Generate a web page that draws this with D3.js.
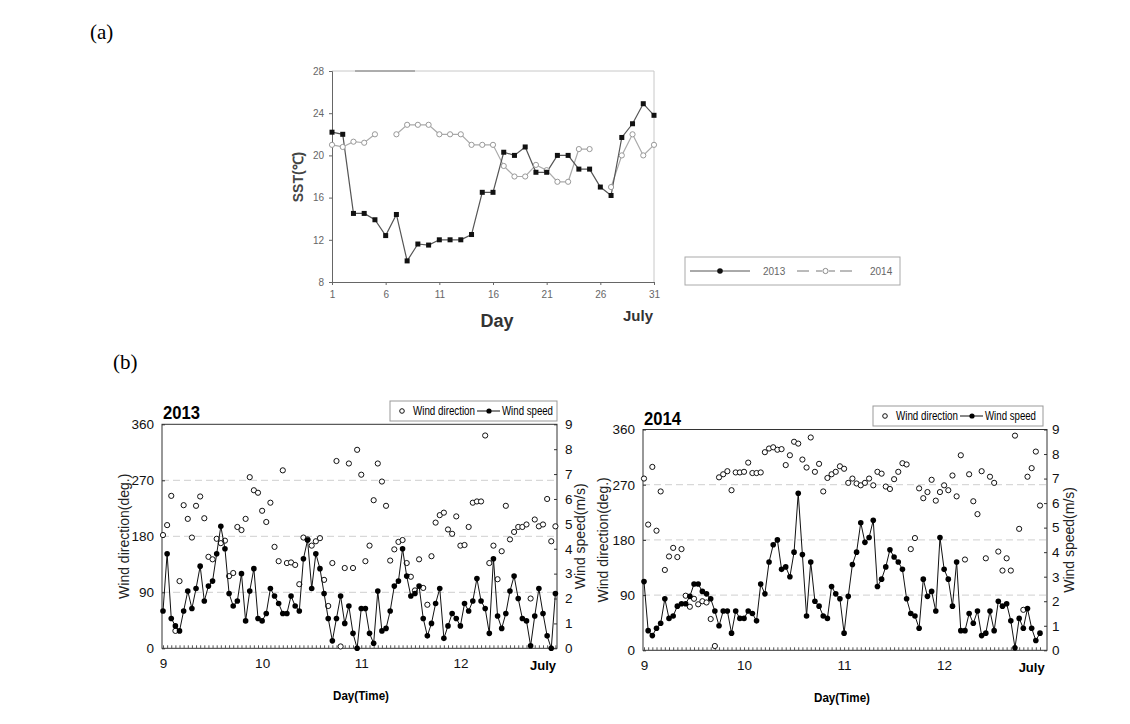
<!DOCTYPE html>
<html><head><meta charset="utf-8">
<script src="https://cdn.jsdelivr.net/npm/d3@7"></script>
<style>body{margin:0;background:#fff}svg{display:block}</style>
</head><body>
<svg id="c" width="1130" height="724"></svg>
<script>
// ---------- data: panel (a) ----------
const sstDays = d3.range(1, 32);
const sst2013 = [22.2,22.0,14.5,14.5,13.9,12.4,14.4,10.0,11.6,11.5,12.0,12.0,12.0,12.5,16.5,16.5,20.3,20.0,20.8,18.4,18.4,20.0,20.0,18.7,18.7,17.0,16.2,21.7,23.0,24.9,23.8];
const sst2014 = [21.0,20.8,21.3,21.2,22.0,null,22.0,22.9,22.9,22.9,22.0,22.0,22.0,21.0,21.0,21.0,19.0,18.0,18.0,19.1,18.6,17.5,17.5,20.6,20.6,null,17.0,20.0,22.0,20.0,21.0];
const sstTicks = [8,12,16,20,24,28];
const dayTicks = [1,6,11,16,21,26,31];

// ---------- data: panel (b) ----------
const hours = d3.range(96);
const dayTickHours = [0,24,48,72];
const dayLabels = ["9","10","11","12"];
const dirTicks = [0,90,180,270,360];
const spdTicks = [0,1,2,3,4,5,6,7,8,9];
const gridDirs = [90,180,270];
const dir2013 = [182,198,245,28,108,230,208,178,229,244, 209,147,143,176,169,173,116,121,195,190,
 208,275,254,250,221,203,234,163,140,286, 137,138,134,103,178,175,165,172,177,110,
 68,137,301,3,129,297,129,319,279,140, 165,238,297,268,229,141,159,171,174,137,
 115,93,143,97,70,148,202,214,218,191, 184,212,165,166,195,234,236,236,342,137,
 165,111,156,229,175,187,195,195,199,80, 207,196,199,240,172,196];
const spd2013 = [1.5,3.8,1.2,0.9,0.7,1.5,2.3,1.6,2.4,3.3, 1.9,2.5,2.7,3.8,4.9,4.0,2.2,1.7,1.9,3.0,
 1.1,2.3,3.2,1.2,1.1,1.4,2.4,2.1,1.8,1.4, 1.4,2.1,1.7,1.5,3.6,4.35,2.4,3.8,3.2,2.2,
 1.2,0.3,1.2,2.1,1.0,1.7,0.6,0.0,1.6,1.6, 0.6,0.2,2.3,0.7,0.8,1.5,2.5,2.7,4.0,2.9,
 2.1,2.2,2.5,1.2,0.5,1.0,1.8,2.4,0.4,0.9, 1.4,1.2,0.9,1.8,1.5,1.9,2.8,1.9,1.6,0.6,
 3.6,1.3,0.8,1.4,2.3,2.9,2.0,1.2,1.1,0.1, 1.3,2.4,1.4,0.5,0.0,2.2];
const dir2014 = [280,205,299,195,259,131,153,167,152,165, 89,71,84,75,80,78,51,7,282,287,
 292,261,290,290,291,306,289,289,290,323, 329,331,327,328,302,318,340,337,311,298,
 347,291,304,259,281,287,291,300,296,273, 280,272,269,273,280,269,291,288,267,263,
 279,291,305,303,165,183,264,248,258,278, 244,258,269,261,285,251,318,148,287,243,
 222,292,150,283,273,161,130,150,130,350, 198,66,283,297,324,236];
const spd2014 = [2.8,0.8,0.6,0.9,1.1,2.1,1.3,1.4,1.8,1.9, 1.9,2.2,2.7,2.7,2.4,2.3,2.1,1.6,1.0,1.6,
 1.6,0.7,1.6,1.3,1.3,1.6,1.5,1.2,2.7,2.3, 3.6,4.3,4.5,3.3,3.4,3.0,4.0,6.4,3.9,1.4,
 3.6,2.0,1.8,1.4,1.3,2.6,2.3,2.1,0.7,2.2, 3.5,4.0,5.2,4.4,4.6,5.3,2.6,2.9,3.4,4.1,
 3.8,3.6,3.3,2.1,1.5,1.4,0.9,2.9,2.2,2.4, 1.6,4.6,3.3,2.9,1.8,3.6,0.8,0.8,1.5,1.1,
 1.6,0.6,0.7,1.6,0.8,2.0,1.8,1.9,1.2,0.1, 1.3,0.9,1.7,0.9,0.4,0.7];

const svg = d3.select("#c");
const SANS = "'Liberation Sans', Arial, sans-serif";
const SERIF = "'Liberation Serif', 'DejaVu Serif', serif";
function squeeze(sel, w) { return sel.attr("textLength", w).attr("lengthAdjust", "spacingAndGlyphs"); }

// ---------- labels (a) (b) ----------
svg.append("text").attr("x", 90).attr("y", 39).attr("font-family", SERIF).attr("font-size", 21).text("(a)");
svg.append("text").attr("x", 113).attr("y", 369).attr("font-family", SERIF).attr("font-size", 21).text("(b)");

// ---------- panel (a) ----------
(function(){
  const L = 332, R = 654, T = 71, B = 282;
  const x = d3.scaleLinear().domain([1, 31]).range([L, R]);
  const y = d3.scaleLinear().domain([8, 28]).range([B, T]);
  const g = svg.append("g");
  g.append("line").attr("x1", L).attr("x2", R).attr("y1", T).attr("y2", T).attr("stroke", "#c8c8c8");
  g.append("line").attr("x1", 355).attr("x2", 415).attr("y1", T).attr("y2", T).attr("stroke", "#777");
  g.append("line").attr("x1", R).attr("x2", R).attr("y1", T).attr("y2", B).attr("stroke", "#c8c8c8");
  const ya = g.append("g").attr("transform", `translate(${L},0)`)
    .call(d3.axisLeft(y).tickValues(sstTicks).tickSize(3).tickPadding(5));
  const xa = g.append("g").attr("transform", `translate(0,${B})`)
    .call(d3.axisBottom(x).tickValues(dayTicks).tickSize(3).tickPadding(6));
  [ya, xa].forEach(a => {
    a.select(".domain").attr("stroke", "#666");
    a.selectAll(".tick line").attr("stroke", "#666");
    a.selectAll("text").attr("font-family", SANS).attr("font-size", 10).attr("fill", "#666");
  });
  const line = d3.line().defined(d => d != null).x((d, i) => x(sstDays[i])).y(d => y(d));
  g.append("path").datum(sst2014).attr("d", line).attr("fill", "none").attr("stroke", "#aaa").attr("stroke-width", 1.2);
  g.append("path").datum(sst2013).attr("d", line).attr("fill", "none").attr("stroke", "#555").attr("stroke-width", 1.2);
  g.selectAll("circle.s14").data(sst2014.map((v, i) => ({d: sstDays[i], v})).filter(o => o.v != null)).join("circle")
    .attr("cx", o => x(o.d)).attr("cy", o => y(o.v)).attr("r", 2.6)
    .attr("fill", "#fff").attr("stroke", "#999").attr("stroke-width", 1);
  g.selectAll("rect.s13").data(sst2013).join("rect")
    .attr("x", (v, i) => x(sstDays[i]) - 2.5).attr("y", v => y(v) - 2.5).attr("width", 5).attr("height", 5)
    .attr("fill", "#111");
  g.append("text").attr("transform", "translate(303,177) rotate(-90)").attr("text-anchor", "middle")
    .attr("font-family", SANS).attr("font-weight", "bold").attr("font-size", 14).attr("fill", "#444").text("SST(℃)");
  g.append("text").attr("x", 497).attr("y", 327).attr("text-anchor", "middle")
    .attr("font-family", SANS).attr("font-weight", "bold").attr("font-size", 18).attr("fill", "#333").text("Day");
  g.append("text").attr("x", 638).attr("y", 321).attr("text-anchor", "middle")
    .attr("font-family", SANS).attr("font-weight", "bold").attr("font-size", 15).attr("fill", "#333").text("July");
  // legend
  const lg = g.append("g");
  lg.append("rect").attr("x", 685).attr("y", 257).attr("width", 215).attr("height", 28)
    .attr("fill", "#fff").attr("stroke", "#aaa");
  lg.append("line").attr("x1", 690).attr("x2", 750).attr("y1", 271).attr("y2", 271).attr("stroke", "#555");
  lg.append("circle").attr("cx", 720).attr("cy", 271).attr("r", 2.8).attr("fill", "#111");
  lg.append("text").attr("x", 763).attr("y", 275).attr("font-family", SANS).attr("font-size", 10).attr("fill", "#666").text("2013");
  [[797, 809], [816, 822], [829, 835], [840, 852]].forEach(s =>
    lg.append("line").attr("x1", s[0]).attr("x2", s[1]).attr("y1", 271).attr("y2", 271).attr("stroke", "#777"));
  lg.append("circle").attr("cx", 825.5).attr("cy", 271).attr("r", 2.6).attr("fill", "#fff").attr("stroke", "#888");
  lg.append("text").attr("x", 870).attr("y", 275).attr("font-family", SANS).attr("font-size", 10).attr("fill", "#666").text("2014");
})();

// ---------- panel (b) ----------
function windPanel(o) {
  const g = svg.append("g");
  const x = d3.scaleLinear().domain([0, 95]).range([o.p0, o.p1]);
  const y = d3.scaleLinear().domain([0, 360]).range([o.B, o.T]);
  const ys = d3.scaleLinear().domain([0, 9]).range([o.B, o.T]);
  g.selectAll("line.grid").data(gridDirs).join("line")
    .attr("x1", o.L).attr("x2", o.R).attr("y1", d => y(d)).attr("y2", d => y(d))
    .attr("stroke", "#cfcfcf").attr("stroke-dasharray", "7,4");
  g.append("rect").attr("x", o.L).attr("y", o.T).attr("width", o.R - o.L).attr("height", o.B - o.T)
    .attr("fill", "none").attr("stroke", "#333");
  const minor = g.append("g").attr("transform", `translate(0,${o.B})`)
    .call(d3.axisBottom(x).tickValues(hours).tickSize(-3).tickFormat(""));
  minor.select(".domain").remove();
  minor.selectAll(".tick line").attr("stroke", "#555");
  const xl = g.append("g").attr("transform", `translate(0,${o.B})`)
    .call(d3.axisBottom(x).tickValues(dayTickHours).tickFormat((d, i) => dayLabels[i]).tickSize(0).tickPadding(10));
  const ly = g.append("g").attr("transform", `translate(${o.L},0)`)
    .call(d3.axisLeft(y).tickValues(dirTicks).tickSize(-3).tickPadding(o.lpad));
  const ry = g.append("g").attr("transform", `translate(${o.R},0)`)
    .call(d3.axisRight(ys).tickValues(spdTicks).tickSize(-3).tickPadding(o.rpad));
  [xl, ly, ry].forEach(a => {
    a.select(".domain").remove();
    a.selectAll(".tick line").attr("stroke", "#333");
    a.selectAll("text").attr("font-family", SANS).attr("font-size", 13.5).attr("fill", "#111");
  });
  g.append("text").attr("x", x(o.julyAt)).attr("y", o.B + 22).attr("text-anchor", "middle")
    .attr("font-family", SANS).attr("font-weight", "bold").attr("font-size", 13).text("July");
  // direction circles
  g.selectAll("circle.dir").data(o.dir).join("circle")
    .attr("cx", (d, i) => x(i)).attr("cy", d => y(d)).attr("r", 2.6)
    .attr("fill", "#fff").attr("stroke", "#111").attr("stroke-width", 1);
  // speed line + points
  g.append("path").datum(o.spd).attr("d", d3.line().x((d, i) => x(i)).y(d => ys(d)))
    .attr("fill", "none").attr("stroke", "#111").attr("stroke-width", 1);
  g.selectAll("circle.spd").data(o.spd).join("circle")
    .attr("cx", (d, i) => x(i)).attr("cy", d => ys(d)).attr("r", 2.8).attr("fill", "#000");
  // titles
  squeeze(g.append("text").attr("x", o.L + 1).attr("y", o.T - 5).attr("font-family", SANS)
    .attr("font-weight", "bold").attr("font-size", 18).text(o.title), 37);
  g.append("text").attr("transform", `translate(${o.lx},${(o.T + o.B) / 2}) rotate(-90)`)
    .attr("text-anchor", "middle").attr("dominant-baseline", "central")
    .attr("font-family", SANS).attr("font-size", 14).attr("fill", "#222").text("Wind direction(deg.)");
  g.append("text").attr("transform", `translate(${o.rx},${(o.T + o.B) / 2}) rotate(-90)`)
    .attr("text-anchor", "middle").attr("dominant-baseline", "central")
    .attr("font-family", SANS).attr("font-size", 14).attr("fill", "#222").text("Wind speed(m/s)");
  squeeze(g.append("text").attr("x", o.dx - 28).attr("y", o.B + 52)
    .attr("font-family", SANS).attr("font-weight", "bold").attr("font-size", 13).text("Day(Time)"), 56);
  // legend
  const lg = g.append("g");
  const LX = o.legX, LY = o.legY, LW = o.legW;
  lg.append("rect").attr("x", LX).attr("y", LY).attr("width", LW).attr("height", 20)
    .attr("fill", "#fff").attr("stroke", "#999");
  lg.append("circle").attr("cx", LX + 12).attr("cy", LY + 10).attr("r", 2.3).attr("fill", "#fff").attr("stroke", "#111");
  squeeze(lg.append("text").attr("x", LX + 23).attr("y", LY + 14).attr("font-family", SANS).attr("font-size", 12).text("Wind direction"), 62);
  lg.append("line").attr("x1", LX + 87).attr("x2", LX + 110).attr("y1", LY + 10).attr("y2", LY + 10).attr("stroke", "#111");
  lg.append("circle").attr("cx", LX + 99).attr("cy", LY + 10).attr("r", 2.6).attr("fill", "#000");
  squeeze(lg.append("text").attr("x", LX + 112).attr("y", LY + 14).attr("font-family", SANS).attr("font-size", 12).text("Wind speed"), 51);
}

windPanel({title: "2013", L: 162, R: 557, T: 424.3, B: 648.3, p0: 163, p1: 555.4, lpad: 8, rpad: 8,
  lx: 124, rx: 580, dx: 361, julyAt: 92, legX: 390, legY: 401, legW: 167, dir: dir2013, spd: spd2013});
windPanel({title: "2014", L: 643, R: 1047, T: 429.5, B: 650.3, p0: 644, p1: 1040, lpad: 8, rpad: 5,
  lx: 603, rx: 1069, dx: 842, julyAt: 93, legX: 873, legY: 406, legW: 170, dir: dir2014, spd: spd2014});
</script>
</body></html>
